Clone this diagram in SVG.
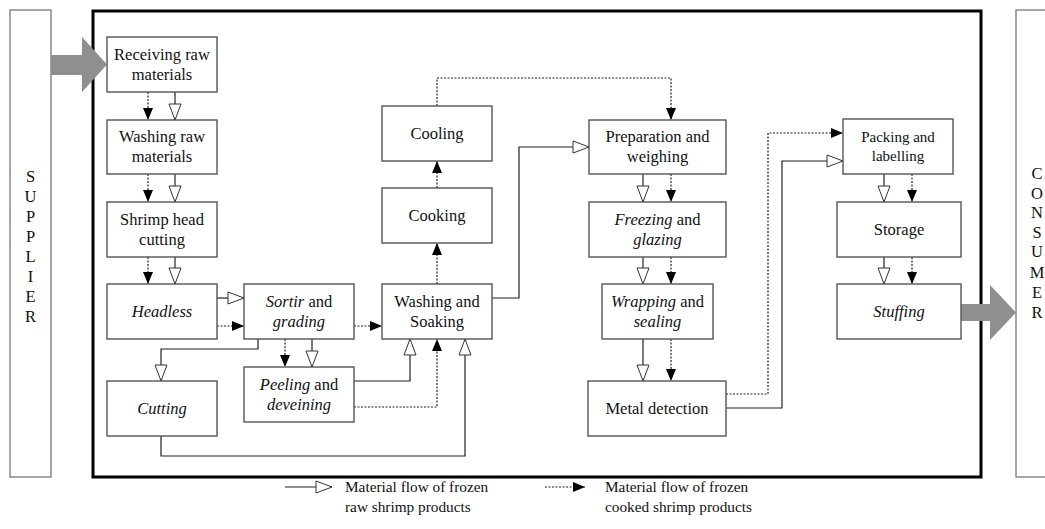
<svg xmlns="http://www.w3.org/2000/svg" width="1045" height="529" viewBox="0 0 1045 529" font-family="Liberation Serif, Times New Roman, DejaVu Serif, serif">
<style>
.box{fill:#fff;stroke:#555;stroke-width:1.4}
.side{fill:#fff;stroke:#777;stroke-width:1.3}
.t{font-size:16.5px;fill:#111;text-anchor:middle}
.s{font-size:15px}
.i{font-style:italic}
.l{font-size:15.3px;fill:#111}
.sl{fill:none;stroke:#222;stroke-width:1.2;marker-end:url(#hollow)}
.dl{fill:none;stroke:#222;stroke-width:1.2;stroke-dasharray:2 1.5;marker-end:url(#filled)}
.big{fill:#8f8f8f}
</style>
<defs>
<marker id="hollow" markerWidth="18" markerHeight="14" refX="17" refY="7" orient="auto" markerUnits="userSpaceOnUse"><path d="M1,1 L17,7 L1,13 Z" fill="#fff" stroke="#333" stroke-width="1"/></marker>
<marker id="filled" markerWidth="13" markerHeight="11" refX="12" refY="5.5" orient="auto" markerUnits="userSpaceOnUse"><path d="M0,0.5 L12,5.5 L0,10.5 Z" fill="#000"/></marker>
</defs>
<rect width="1045" height="529" fill="#fff"/>
<g id="supplier">
<rect class="side" x="10" y="10" width="41" height="467"/>
<text class="t" x="30.5" y="182">S</text>
<text class="t" x="30.5" y="202">U</text>
<text class="t" x="30.5" y="222">P</text>
<text class="t" x="30.5" y="242">P</text>
<text class="t" x="30.5" y="262">L</text>
<text class="t" x="30.5" y="282">I</text>
<text class="t" x="30.5" y="302">E</text>
<text class="t" x="30.5" y="322">R</text>
</g>
<g id="consumer">
<rect class="side" x="1016" y="10" width="40" height="467"/>
<text class="t" x="1037" y="179">C</text>
<text class="t" x="1037" y="199">O</text>
<text class="t" x="1037" y="218">N</text>
<text class="t" x="1037" y="238">S</text>
<text class="t" x="1037" y="257">U</text>
<text class="t" x="1037" y="278">M</text>
<text class="t" x="1037" y="298">E</text>
<text class="t" x="1037" y="318">R</text>
</g>
<g id="frame"><rect x="93" y="11" width="888" height="466" fill="none" stroke="#000" stroke-width="3"/></g>
<g id="supply-arrow"><polygon class="big" points="51,55 82,55 82,37 107,64.5 82,92 82,75 51,75"/></g>
<g id="consume-arrow"><polygon class="big" points="961,304 990,304 990,285 1016,312.5 990,340 990,321 961,321"/></g>
<g id="connectors">
<line class="dl" x1="148" y1="92" x2="148" y2="120"/><line class="sl" x1="175" y1="92" x2="175" y2="120"/>
<line class="dl" x1="148" y1="174" x2="148" y2="202"/><line class="sl" x1="175" y1="174" x2="175" y2="202"/>
<line class="dl" x1="148" y1="257" x2="148" y2="284"/><line class="sl" x1="175" y1="257" x2="175" y2="284"/>
<line class="sl" x1="217" y1="298" x2="244" y2="298"/><line class="dl" x1="217" y1="326" x2="244" y2="326"/>
<path class="sl" d="M258,339 V349 H161 V381"/>
<line class="dl" x1="285" y1="339" x2="285" y2="367"/><line class="sl" x1="312" y1="339" x2="312" y2="367"/>
<line class="dl" x1="354" y1="326" x2="382" y2="326"/>
<path class="sl" d="M354,381 H410 V339"/>
<path class="dl" d="M354,407 H437 V339"/>
<path class="sl" d="M161,436 V456 H465 V339"/>
<line class="dl" x1="437" y1="284" x2="437" y2="243"/>
<line class="dl" x1="437" y1="188" x2="437" y2="161"/>
<path class="dl" d="M437,106 V78 H671 V120"/>
<path class="sl" d="M492,298 H519 V147 H589"/>
<line class="sl" x1="643" y1="174" x2="643" y2="202"/><line class="dl" x1="671" y1="174" x2="671" y2="202"/>
<line class="sl" x1="643" y1="257" x2="643" y2="284"/><line class="dl" x1="671" y1="257" x2="671" y2="284"/>
<line class="sl" x1="643" y1="339" x2="643" y2="381"/><line class="dl" x1="671" y1="339" x2="671" y2="381"/>
<path class="dl" d="M726,394 H768 V133 H843"/>
<path class="sl" d="M726,408 H782 V161 H843"/>
<line class="sl" x1="884" y1="174" x2="884" y2="202"/><line class="dl" x1="912" y1="174" x2="912" y2="202"/>
<line class="sl" x1="884" y1="257" x2="884" y2="284"/><line class="dl" x1="912" y1="257" x2="912" y2="284"/>
</g>
<g id="n-receiving"><rect class="box" x="107" y="37" width="110" height="55"/><text class="t" x="162" y="60">Receiving raw</text><text class="t" x="162" y="80">materials</text></g>
<g id="n-washing-raw"><rect class="box" x="107" y="120" width="110" height="54"/><text class="t" x="162" y="142">Washing raw</text><text class="t" x="162" y="162">materials</text></g>
<g id="n-head-cutting"><rect class="box" x="107" y="202" width="110" height="55"/><text class="t" x="162" y="225">Shrimp head</text><text class="t" x="162" y="245">cutting</text></g>
<g id="n-headless"><rect class="box" x="107" y="284" width="110" height="55"/><text class="t i" x="162" y="317">Headless</text></g>
<g id="n-cutting"><rect class="box" x="107" y="381" width="110" height="55"/><text class="t i" x="162" y="414">Cutting</text></g>
<g id="n-sortir"><rect class="box" x="244" y="284" width="110" height="55"/><text class="t" x="299" y="307"><tspan class="i">Sortir</tspan> and</text><text class="t i" x="299" y="327">grading</text></g>
<g id="n-peeling"><rect class="box" x="244" y="367" width="110" height="55"/><text class="t" x="299" y="390"><tspan class="i">Peeling</tspan> and</text><text class="t i" x="299" y="410">deveining</text></g>
<g id="n-washing-soaking"><rect class="box" x="382" y="284" width="110" height="55"/><text class="t" x="437" y="307">Washing and</text><text class="t" x="437" y="327">Soaking</text></g>
<g id="n-cooking"><rect class="box" x="382" y="188" width="110" height="55"/><text class="t" x="437" y="221">Cooking</text></g>
<g id="n-cooling"><rect class="box" x="382" y="106" width="110" height="55"/><text class="t" x="437" y="139">Cooling</text></g>
<g id="n-preparation"><rect class="box" x="589" y="120" width="137" height="54"/><text class="t" x="657.5" y="142">Preparation and</text><text class="t" x="657.5" y="162">weighing</text></g>
<g id="n-freezing"><rect class="box" x="589" y="202" width="137" height="55"/><text class="t" x="657.5" y="225"><tspan class="i">Freezing</tspan> and</text><text class="t i" x="657.5" y="245">glazing</text></g>
<g id="n-wrapping"><rect class="box" x="602" y="284" width="111" height="55"/><text class="t" x="657.5" y="307"><tspan class="i">Wrapping</tspan> and</text><text class="t i" x="657.5" y="327">sealing</text></g>
<g id="n-metal"><rect class="box" x="588" y="381" width="138" height="55"/><text class="t" x="657" y="414">Metal detection</text></g>
<g id="n-packing"><rect class="box" x="843" y="119" width="110" height="55"/><text class="t s" x="898" y="142">Packing and</text><text class="t s" x="898" y="161">labelling</text></g>
<g id="n-storage"><rect class="box" x="837" y="202" width="124" height="55"/><text class="t" x="899" y="235">Storage</text></g>
<g id="n-stuffing"><rect class="box" x="837" y="284" width="124" height="55"/><text class="t i" x="899" y="317">Stuffing</text></g>
<g id="legend">
<line class="sl" x1="285" y1="487" x2="332" y2="487"/>
<text class="l" x="345" y="492">Material flow of frozen</text>
<text class="l" x="345" y="512">raw shrimp products</text>
<line class="dl" x1="545" y1="487" x2="585" y2="487"/>
<text class="l" x="605" y="492">Material flow of frozen</text>
<text class="l" x="605" y="512">cooked shrimp products</text>
</g>
</svg>
